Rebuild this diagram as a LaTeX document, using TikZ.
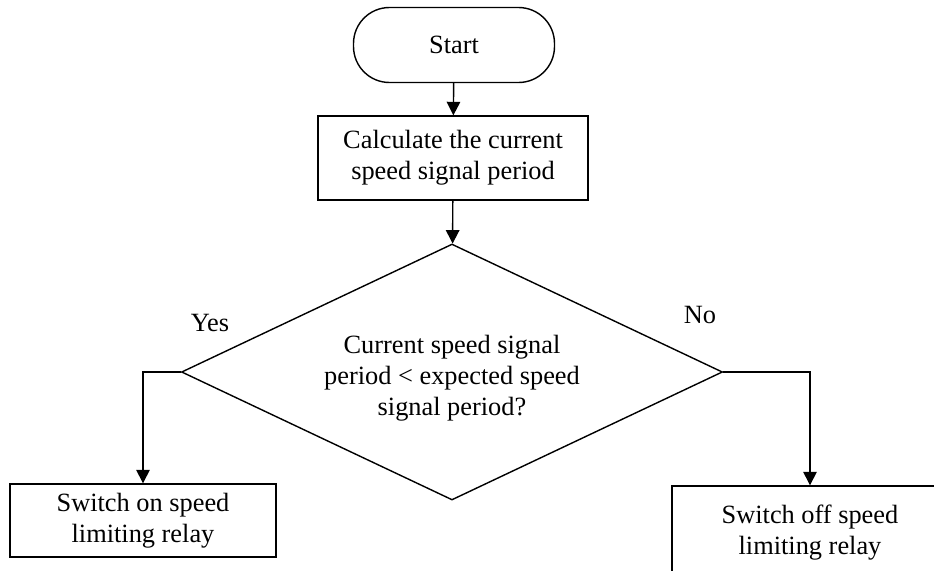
\documentclass[tikz,border=0pt]{standalone}
\usepackage{fontspec}
\setmainfont{Liberation Serif}
\usetikzlibrary{arrows.meta,shapes.geometric}

\tikzset{
    flowbox/.style={draw, line width=0.8pt, inner sep=0pt, align=center},
    decbox/.style={draw, diamond, aspect=2.1, line width=0.8pt, inner sep=0pt, align=center},
    flowarrow/.style={line width=0.8pt, -{Triangle[length=0.27cm,width=0.27cm]}}
}

\begin{document}
\begin{tikzpicture}[font=\fontsize{15}{17.6}\selectfont]
    % Picture frame
    \clip (0,0) rectangle (18.68,-11.4);

    % Draw the terminal and process boxes
    \node[flowbox, rounded corners=0.72cm, minimum width=4.02cm, minimum height=1.5cm] (start) at (9.08,-0.9) {Start};
    \node[flowbox, minimum width=5.4cm, minimum height=1.68cm] (calc) at (9.06,-3.16) {Calculate the current\\speed signal period};

    % Draw the decision
    \node[decbox, minimum width=10.82cm, minimum height=5.12cm] (check) at (9.04,-7.44) {\raisebox{-0.13cm}[\height][\depth]{\begin{tabular}{@{}c@{}}Current speed signal\\period < expected speed\\signal period?\end{tabular}}};

    % Draw the two outcomes
    \node[flowbox, minimum width=5.32cm, minimum height=1.46cm] (relayon) at (2.86,-10.41) {Switch on speed\\limiting relay};
    \node[flowbox, minimum width=5.52cm, minimum height=1.86cm] (relayoff) at (16.2,-10.65) {Switch off speed\\limiting relay};

    % Connect the boxes
    \draw[flowarrow] (start) -- (calc);
    \draw[flowarrow] (calc) -- (check);
    \draw[flowarrow] (check.west) -| (relayon.north);
    \draw[flowarrow] (check.east) -| (relayoff.north);

    % Branch labels
    \node (yes) at (4.2,-6.46) {Yes};
    \node (no) at (14.0,-6.3) {No};
\end{tikzpicture}
\end{document}
